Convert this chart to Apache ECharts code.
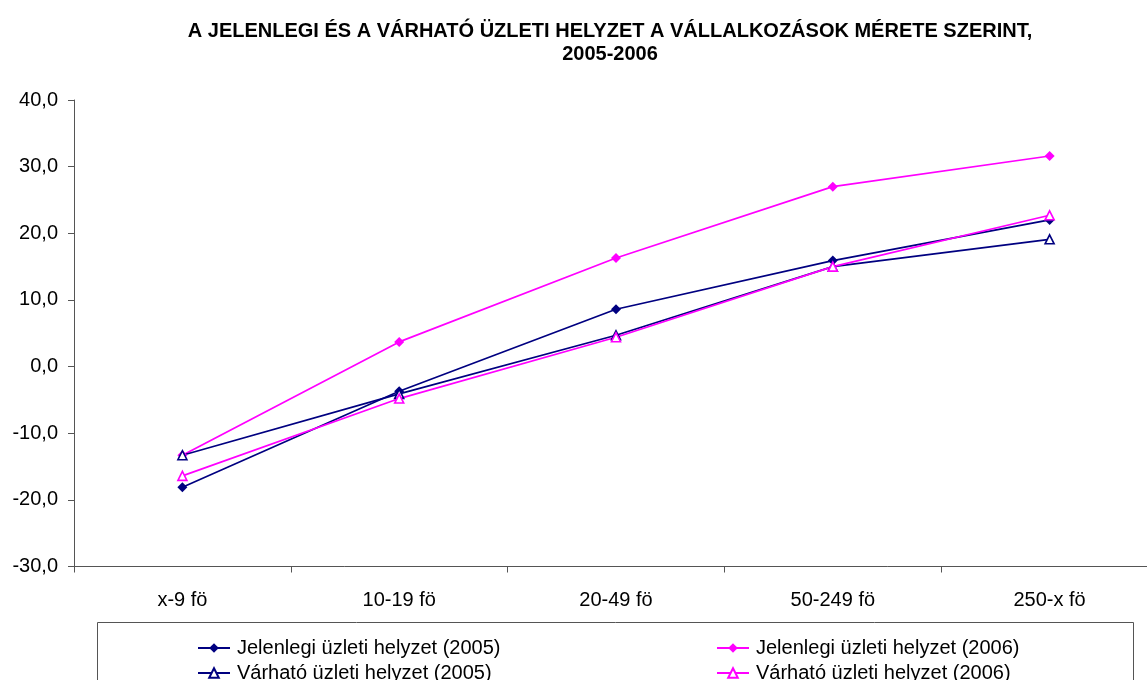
<!DOCTYPE html>
<html>
<head>
<meta charset="utf-8">
<script src="https://cdn.jsdelivr.net/npm/echarts@6/dist/echarts.min.js"></script>
<style>
  html, body { margin: 0; padding: 0; background: #fff; overflow: hidden; }
  #chart { width: 1160px; height: 680px; }
</style>
</head>
<body>
<div id="chart"></div>
<script>
var categories = ['x-9 fö', '10-19 fö', '20-49 fö', '50-249 fö', '250-x fö'];
var jelenlegi2005 = [-18.1, -3.7, 8.6, 15.9, 22.0];
var jelenlegi2006 = [-13.3, 3.7, 16.3, 27.0, 31.6];
var varhato2005 = [-13.3, -4.1, 4.7, 15.0, 19.1];
var varhato2006 = [-16.4, -4.8, 4.4, 15.0, 22.7];

var navy = '#000080';
var pink = '#ff00ff';
var font = 'Liberation Sans, Arial, sans-serif';

function fmt(v) {
    return v.toFixed(1).replace('.', ',');
}

function lineSeries(name, data, color, symbol) {
    var hollow = symbol === 'triangle';
    return {
        name: name,
        type: 'line',
        data: data,
        symbol: symbol,
        symbolSize: hollow ? 9 : 10,
        lineStyle: { color: color, width: 1.7 },
        itemStyle: {
            color: hollow ? '#fff' : color,
            borderColor: color,
            borderWidth: hollow ? 1.6 : 0
        },
        emphasis: { disabled: true },
        animation: false
    };
}

// legenda egy oszlopa
function legendCol(left, names) {
    return {
        orient: 'vertical',
        left: left,
        top: 638,
        height: 80,
        padding: 0,
        itemWidth: 32,
        itemHeight: 12,
        itemGap: 5,
        data: names,
        textStyle: { fontFamily: font, fontSize: 20, color: '#000', padding: [0, 0, 0, 2] }
    };
}

var chart = echarts.init(document.getElementById('chart'));
chart.setOption({
    backgroundColor: '#fff',
    title: {
        text: 'A JELENLEGI ÉS A VÁRHATÓ ÜZLETI HELYZET A VÁLLALKOZÁSOK MÉRETE SZERINT,\n2005-2006',
        left: 605,
        textAlign: 'center',
        top: 15,
        textStyle: {
            fontFamily: font,
            fontSize: 20,
            fontWeight: 'bold',
            color: '#000',
            lineHeight: 23
        }
    },
    grid: { left: 74, top: 100, right: 2, bottom: 113.5 },
    xAxis: {
        type: 'category',
        data: categories,
        axisLine: { onZero: false, lineStyle: { color: '#555', width: 1 } },
        axisTick: { show: true, length: 6, lineStyle: { color: '#555' } },
        axisLabel: { fontFamily: font, fontSize: 20, color: '#000', margin: 24 }
    },
    yAxis: {
        type: 'value',
        min: -30,
        max: 40,
        interval: 10,
        splitLine: { show: false },
        axisLine: { show: true, lineStyle: { color: '#555', width: 1 } },
        axisTick: { show: true, length: 6, lineStyle: { color: '#555' } },
        axisLabel: {
            fontFamily: font, fontSize: 20, color: '#000', margin: 16,
            formatter: fmt
        }
    },
    legend: [
        legendCol(197, ['Jelenlegi üzleti helyzet (2005)', 'Várható üzleti helyzet (2005)']),
        legendCol(716, ['Jelenlegi üzleti helyzet (2006)', 'Várható üzleti helyzet (2006)'])
    ],
    graphic: [{
        type: 'rect',
        shape: { x: 97.5, y: 622.5, width: 1036, height: 80 },
        style: { fill: null, stroke: '#555', lineWidth: 1 },
        z: -1
    }],
    series: [
        lineSeries('Jelenlegi üzleti helyzet (2005)', jelenlegi2005, navy, 'diamond'),
        lineSeries('Jelenlegi üzleti helyzet (2006)', jelenlegi2006, pink, 'diamond'),
        lineSeries('Várható üzleti helyzet (2005)', varhato2005, navy, 'triangle'),
        lineSeries('Várható üzleti helyzet (2006)', varhato2006, pink, 'triangle')
    ]
});
</script>
</body>
</html>
